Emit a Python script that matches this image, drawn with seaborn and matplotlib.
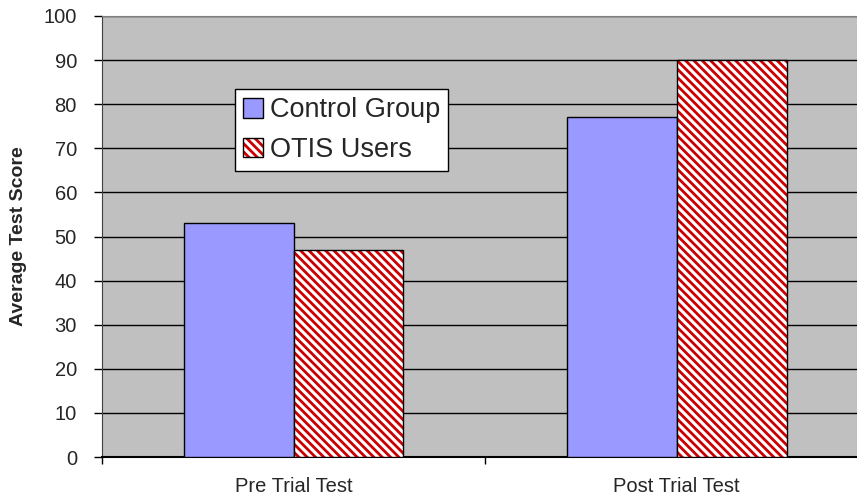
import matplotlib
matplotlib.use("Agg")
import matplotlib.pyplot as plt
import matplotlib.patches as mpatches
import pandas as pd
import seaborn as sns

tests = ["Pre Trial Test", "Post Trial Test"]
groups = ["Control Group", "OTIS Users"]
control_scores = [53, 77]
otis_scores = [47, 90]

df = pd.DataFrame({
    "Test": tests * 2,
    "Group": [groups[0]] * 2 + [groups[1]] * 2,
    "Score": control_scores + otis_scores,
})

sns.set_style("white")
plt.rcParams["font.family"] = ["Liberation Sans", "DejaVu Sans"]
plt.rcParams["hatch.linewidth"] = 2.0

blue = "#9999FF"
red = "#CC0000"
hatch = "\\\\\\\\"

fig = plt.figure(figsize=(8.57, 4.99), dpi=100)
ax = fig.add_axes([0.119, 0.084, 0.894, 0.884])
ax.set_facecolor("#C0C0C0")

sns.barplot(data=df, x="Test", y="Score", hue="Group", order=tests,
            hue_order=groups, palette=[blue, "white"], width=0.574,
            gap=0, edgecolor="black", linewidth=1, saturation=1,
            legend=False, ax=ax, zorder=3)

# hatch the OTIS bars in red, then redraw a black outline on top
for p in ax.containers[1]:
    p.set_edgecolor(red)
    p.set_linewidth(0)
    p.set_hatch(hatch)
    ax.add_patch(mpatches.Rectangle(p.get_xy(), p.get_width(), p.get_height(),
                                    fill=False, edgecolor="black", lw=1, zorder=4))

ax.set_ylim(0, 100)
ax.set_yticks(range(0, 101, 10))
ax.set_xlim(-0.5, 1.5)
ax.yaxis.grid(True, color="black", linewidth=1.0)
ax.set_axisbelow(True)

ax.set_xticks([0, 1])
ax.set_xticklabels(tests)
ax.set_xticks([-0.5, 0.5, 1.5], minor=True)
ax.tick_params(axis="x", which="major", length=0, pad=14, labelsize=14.5)
ax.tick_params(axis="x", which="minor", length=5, width=1, direction="out",
               bottom=True, color="black")
ax.tick_params(axis="y", length=6, width=1, direction="out", left=True,
               color="black", pad=12, labelsize=14.5)

for side in ["top", "right"]:
    ax.spines[side].set_color("#808080")
ax.spines["left"].set_color("#404040")
ax.spines["bottom"].set_color("black")
ax.spines["bottom"].set_linewidth(1.5)

ax.set_xlabel("")
ax.set_ylabel("Average Test Score", fontsize=14, fontweight="bold", labelpad=12)

h1 = mpatches.Patch(facecolor=blue, edgecolor="black", lw=1)
h2 = (mpatches.Patch(facecolor="white", edgecolor=red, lw=0, hatch=hatch),
      mpatches.Patch(fill=False, edgecolor="black", lw=1))
leg = ax.legend([h1, h2], groups, loc="upper left", bbox_to_anchor=(0.174, 0.834),
                borderaxespad=0, fontsize=19.5, frameon=True, fancybox=False,
                edgecolor="black", framealpha=1, handlelength=0.72,
                handleheight=0.72, handletextpad=0.25, borderpad=0.3,
                labelspacing=0.5)
leg.get_frame().set_linewidth(1)
leg.set_zorder(10)

fig.savefig("out.png", dpi=100)
